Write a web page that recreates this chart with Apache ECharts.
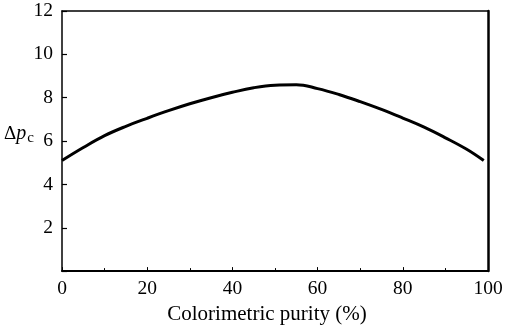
<!DOCTYPE html>
<html>
<head>
<meta charset="utf-8">
<script src="https://cdn.jsdelivr.net/npm/echarts@6/dist/echarts.min.js"></script>
<style>html,body{margin:0;padding:0;background:#fff}#c{width:506px;height:330px}</style>
</head>
<body>
<div id="c"></div>
<script>
const purity = [0, 5, 10, 15, 20, 25, 30, 35, 40, 45, 50, 55, 60, 65, 70, 75, 80, 85, 90, 95, 99];
const deltaPc = [5.1, 5.7, 6.25, 6.68, 7.05, 7.4, 7.72, 8.0, 8.25, 8.46, 8.58, 8.6, 8.42, 8.15, 7.82, 7.46, 7.06, 6.64, 6.15, 5.62, 5.1];
const xTicks = [0, 20, 40, 60, 80, 100];
const yTicks = [2, 4, 6, 8, 10, 12];
const xLabel = 'Colorimetric purity (%)';

const font = 'Liberation Serif';
const chart = echarts.init(document.getElementById('c'));
chart.setOption({
  animation: false,
  backgroundColor: '#fff',
  grid: { left: 62, right: 18, top: 11, bottom: 56 },
  xAxis: [{
    type: 'value', min: 0, max: 100, interval: 20,
    name: xLabel, nameLocation: 'middle', nameGap: 30,
    nameTextStyle: { fontFamily: font, fontSize: 21, color: '#000', padding: [0, 16, 0, 0] },
    axisLine: { lineStyle: { color: '#000', width: 2 } },
    axisTick: { inside: true, length: 4, lineStyle: { color: '#000', width: 1 } },
    minorTick: { show: true, splitNumber: 2, length: 3, lineStyle: { color: '#000', width: 1 } },
    axisLabel: {
      fontFamily: font, fontSize: 19.5, color: '#000', margin: 8,
      formatter: v => xTicks.includes(v) ? String(v) : ''
    },
    splitLine: { show: false }
  }, {
    type: 'value', min: 0, max: 100, position: 'top',
    axisLine: { show: true, onZero: false, lineStyle: { color: '#000', width: 1.5 } },
    axisTick: { show: false }, axisLabel: { show: false }, splitLine: { show: false }
  }],
  yAxis: [{
    type: 'value', min: 0, max: 12, interval: 2,
    axisLine: { show: true, lineStyle: { color: '#000', width: 1.5 } },
    axisTick: { inside: true, length: 5, lineStyle: { color: '#000', width: 1.2 } },
    axisLabel: {
      fontFamily: font, fontSize: 19.5, color: '#000', margin: 9,
      formatter: v => yTicks.includes(v) ? String(v) : ''
    },
    splitLine: { show: false }
  }, {
    type: 'value', min: 0, max: 12, position: 'right',
    axisLine: { show: true, onZero: false, lineStyle: { color: '#000', width: 2.5 } },
    axisTick: { show: false }, axisLabel: { show: false }, splitLine: { show: false }
  }],
  graphic: [{
    type: 'text', left: 4, top: 124,
    style: {
      text: '{d|Δ}{p|p}{s|c}',
      rich: {
        d: { fontFamily: font, fontSize: 19, fill: '#000' },
        p: { fontFamily: font, fontSize: 20, fontStyle: 'italic', fill: '#000' },
        s: { fontFamily: font, fontSize: 15, fill: '#000', padding: [8, 0, 0, 1] }
      }
    }
  }],
  series: [{
    type: 'line',
    data: purity.map((x, i) => [x, deltaPc[i]]),
    smooth: 0.4, showSymbol: false,
    lineStyle: { color: '#000', width: 3 }
  }]
});
</script>
</body>
</html>
